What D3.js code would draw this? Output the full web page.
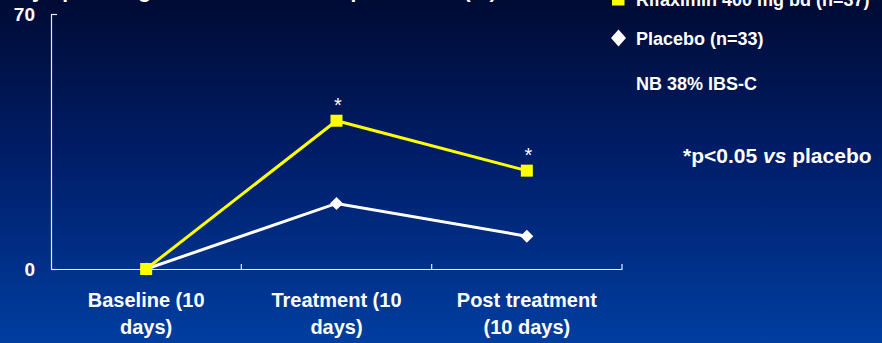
<!DOCTYPE html>
<html>
<head>
<meta charset="utf-8">
<script src="https://cdn.jsdelivr.net/npm/d3@7"></script>
<style>
  html, body { margin: 0; padding: 0; background: #001a5c; }
  svg { display: block; }
  text { font-family: "Liberation Sans", Arial, sans-serif; fill: #ffffff; }
</style>
</head>
<body>
<svg id="chart" width="882" height="343"></svg>
<script>
// Study periods shown on the x axis (each label split over two lines)
const categories = ["Baseline (10 days)", "Treatment (10 days)", "Post treatment (10 days)"];
const categoryLines = [["Baseline (10", "days)"], ["Treatment (10", "days)"], ["Post treatment", "(10 days)"]];

// Percentage of patients per period
const rifaximin = [0, 40.7, 27];
const placebo = [0, 18, 9];

// Periods with p<0.05 vs placebo
const significant = [false, true, true];

// Y axis ticks
const yTicks = [0, 70];

// Legend / notes
const seriesNames = ["Rifaximin 400 mg bd (n=37)", "Placebo (n=33)"];
const noteText = "NB 38% IBS-C";
const titleText = "Symptoms: global and clinical improvement (%)";

const W = 882, H = 343;
const svg = d3.select("#chart");

// Background: dark navy at the top fading to a brighter blue
const defs = svg.append("defs");
const grad = defs.append("linearGradient")
  .attr("id", "bg").attr("x1", 0).attr("y1", 0).attr("x2", 0).attr("y2", 1);
grad.append("stop").attr("offset", "0%").attr("stop-color", "#000b34");
grad.append("stop").attr("offset", "45%").attr("stop-color", "#001d68");
grad.append("stop").attr("offset", "100%").attr("stop-color", "#003ea0");
svg.append("rect").attr("width", W).attr("height", H).attr("fill", "url(#bg)");

// Title (runs off the top edge)
svg.append("text")
  .attr("x", 18).attr("y", -2.5)
  .style("font-size", "21px").style("font-weight", "bold")
  .text(titleText);

// Scales
const x = d3.scaleBand().domain(categories).range([51, 622]).padding(0);
const y = d3.scaleLinear().domain([0, 70]).range([269, 14]);
const cx = d => x(d) + x.bandwidth() / 2;

// Y axis with inward ticks
const yAxis = svg.append("g")
  .attr("transform", `translate(${x.range()[0]},0)`)
  .call(d3.axisLeft(y).tickValues(yTicks).tickSizeInner(-6).tickSizeOuter(0).tickPadding(16));
yAxis.select(".domain").attr("stroke", "#e8ecf5").attr("stroke-width", 1.2);
yAxis.selectAll(".tick line").attr("stroke", "#e8ecf5").attr("stroke-width", 1.2);
yAxis.selectAll(".tick text")
  .attr("fill", "#ffffff")
  .style("font-family", "'Liberation Sans', Arial, sans-serif")
  .style("font-size", "19px").style("font-weight", "bold");

// X axis line with category labels
const xAxis = svg.append("g")
  .attr("transform", `translate(0,${y(0)})`)
  .call(d3.axisBottom(x).tickSize(0).tickPadding(0).tickFormat(""));
xAxis.select(".domain").attr("stroke", "#e8ecf5").attr("stroke-width", 1.2);

// Tick marks at the boundaries between periods, pointing upward
svg.append("g").selectAll("line")
  .data(categories)
  .join("line")
  .attr("x1", d => x(d) + x.bandwidth())
  .attr("x2", d => x(d) + x.bandwidth())
  .attr("y1", y(0))
  .attr("y2", y(0) - 5)
  .attr("stroke", "#e8ecf5").attr("stroke-width", 1.2);

const catLabels = svg.append("g").selectAll("text")
  .data(categories)
  .join("text")
  .attr("text-anchor", "middle")
  .style("font-size", "20px").style("font-weight", "bold");
catLabels.each(function(d, i) {
  const t = d3.select(this);
  categoryLines[i].forEach((line, j) => {
    t.append("tspan").attr("x", cx(d)).attr("y", 307 + j * 27).text(line);
  });
});

// Lines
const line = d3.line().x((v, i) => cx(categories[i])).y(v => y(v));

svg.append("path").datum(placebo)
  .attr("d", line).attr("fill", "none")
  .attr("stroke", "#ffffff").attr("stroke-width", 3);

svg.append("path").datum(rifaximin)
  .attr("d", line).attr("fill", "none")
  .attr("stroke", "#ffff00").attr("stroke-width", 3);

// Placebo markers: diamonds
const diamond = (s) => `M0,${-s}L${s},0L0,${s}L${-s},0Z`;
svg.append("g").selectAll("path")
  .data(placebo)
  .join("path")
  .attr("transform", (v, i) => `translate(${cx(categories[i])},${y(v)})`)
  .attr("d", diamond(6.5))
  .attr("fill", "#ffffff");

// Rifaximin markers: squares
svg.append("g").selectAll("rect")
  .data(rifaximin)
  .join("rect")
  .attr("x", (v, i) => cx(categories[i]) - 6)
  .attr("y", v => y(v) - 6)
  .attr("width", 12).attr("height", 12)
  .attr("fill", "#ffff00");

// Significance asterisks above rifaximin points
svg.append("g").selectAll("text")
  .data(rifaximin.map((v, i) => ({ v, i })).filter(d => significant[d.i]))
  .join("text")
  .attr("x", d => cx(categories[d.i]) + 1.5)
  .attr("y", d => y(d.v) - 9)
  .attr("text-anchor", "middle")
  .style("font-size", "20px")
  .text("*");

// Legend
const legend = svg.append("g");
legend.append("rect")
  .attr("x", 612).attr("y", -7).attr("width", 12.5).attr("height", 12.5)
  .attr("fill", "#ffff00");
legend.append("text")
  .attr("x", 636).attr("y", 5.5)
  .style("font-size", "18px").style("font-weight", "bold")
  .text(seriesNames[0]);

legend.append("path")
  .attr("d", "M618.5,29.5L626,38L618.5,46.5L611,38Z")
  .attr("fill", "#ffffff");
legend.append("text")
  .attr("x", 636).attr("y", 45)
  .style("font-size", "18px").style("font-weight", "bold")
  .text(seriesNames[1]);

legend.append("text")
  .attr("x", 636).attr("y", 90)
  .style("font-size", "18px").style("font-weight", "bold")
  .text(noteText);

// Significance footnote
const foot = svg.append("text")
  .attr("x", 683).attr("y", 163)
  .style("font-size", "21px").style("font-weight", "bold");
foot.append("tspan").text("*p<0.05 ");
foot.append("tspan").style("font-style", "italic").text("vs");
foot.append("tspan").text(" placebo");
</script>
</body>
</html>
